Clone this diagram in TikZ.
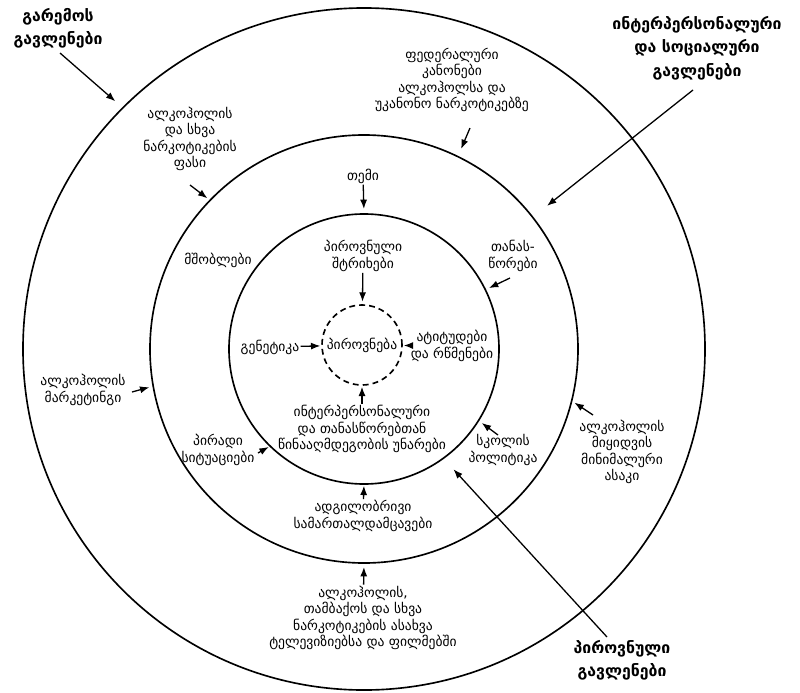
\documentclass[tikz,border=0pt]{standalone}
\usepackage{fontspec}
\setmainfont{DejaVu Sans}
\usetikzlibrary{arrows.meta,positioning}

\begin{document}
\begin{tikzpicture}[
  x=0.03cm, y=-0.03cm,
  ring/.style={draw, circle, line width=1.4pt, inner sep=0pt, outer sep=0pt},
  lbl/.style={align=center, font=\fontsize{11.6}{14}\selectfont, inner sep=1pt},
  head/.style={align=center, font=\bfseries\fontsize{13.5}{20}\selectfont, inner sep=1pt},
  arr/.style={-{Latex[length=8pt,width=6pt]}, line width=1.1pt},
]
  \fill[white] (0,0) rectangle (800,693);
  \useasboundingbox (0,0) rectangle (800,693);

  % rings
  \node[ring, minimum size=20.46cm] (outer) at (364,349) {};
  \node[ring, minimum size=12.84cm] (middle) at (364,349) {};
  \node[ring, minimum size=8.1cm] (inner) at (364,349) {};
  \node[ring, dashed, dash pattern=on 5pt off 3.5pt, minimum size=2.4cm, font=\fontsize{11.6}{14}\selectfont] (self) at (362,345) {პიროვნება};

  % headings
  \node[head] (env) at (58,28) {გარემოს\\გავლენები};
  \node[head] (soc) at (697,48) {ინტერპერსონალური\\და სოციალური\\გავლენები};
  \node[head] (pers) at (622,660) {პიროვნული\\გავლენები};

  % outer ring
  \node[lbl] (fedlaw) at (452,80) {ფედერალური\\კანონები\\ალკოჰოლსა და\\უკანონო ნარკოტიკებზე};
  \node[lbl] (price) at (190,139) {ალკოჰოლის\\და სხვა\\ნარკოტიკების\\ფასი};
  \node[lbl] (marketing) at (83,390) {ალკოჰოლის\\მარკეტინგი};
  \node[lbl] (minage) at (622,452) {ალკოჰოლის\\მიყიდვის\\მინიმალური\\ასაკი};
  \node[lbl] (media) at (363,618) {ალკოჰოლის,\\თამბაქოს და სხვა\\ნარკოტიკების ასახვა\\ტელევიზიებსა და ფილმებში};

  % middle ring
  \node[lbl] (temi) at (363,176) {თემი};
  \node[lbl] (parents) at (218,260) {მშობლები};
  \node[lbl] (peers) at (513,256) {თანას-\\წორები};
  \node[lbl] (situations) at (218,450) {პირადი\\სიტუაციები};
  \node[lbl] (school) at (503,450) {სკოლის\\პოლიტიკა};
  \node[lbl] (police) at (363,516) {ადგილობრივი\\სამართალდამცავები};

  % inner ring
  \node[lbl] (traits) at (363,256) {პიროვნული\\შტრიხები};
  \node[lbl] (genetics) at (270,347) {გენეტიკა};
  \node[lbl] (attitudes) at (452,346) {ატიტუდები\\და რწმენები};
  \node[lbl] (skills) at (362,429) {ინტერპერსონალური\\და თანასწორებთან\\წინააღმდეგობის უნარები};

  % arrow tails
  \coordinate (env-t) at (60,53);
  \coordinate (soc-t) at (693,90);
  \coordinate (pers-t) at (607,637);
  \coordinate (fedlaw-t) at (470,128);
  \coordinate (price-t) at (190,185);
  \coordinate (peers-t) at (510,278);
  \coordinate (marketing-t) at (132,392);
  \coordinate (situations-t) at (258,453);
  \coordinate (school-t) at (498,435);
  \coordinate (minage-t) at (593,415);

  \draw[arr, shorten >=0.3cm] (env-t) -- (outer.135);
  \draw[arr, shorten >=0.55cm] (soc-t) -- (middle.38);
  \draw[arr, shorten >=0.45cm] (pers-t) -- (inner.-54);
  \draw[arr, shorten >=0.25cm] (fedlaw-t) -- (middle.64);
  \draw[arr, shorten >=0.1cm] (price-t) -- (middle.136);
  \draw[arr, shorten >=0.12cm] (marketing-t) -- (middle.190);
  \draw[arr, shorten >=0.1cm] (minage-t) -- (middle.-14);
  \draw[arr, shorten >=0.12cm] (media) -- (middle.-90);
  \draw[arr, shorten >=0.15cm] (temi) -- (inner.90);
  \draw[arr, shorten >=0.12cm] (peers-t) -- (inner.26);
  \draw[arr, shorten >=0.05cm] (situations-t) -- (inner.226);
  \draw[arr, shorten >=0.12cm] (school-t) -- (inner.-32);
  \draw[arr, shorten >=0.05cm] (police) -- (inner.-90);
  \draw[arr, shorten >=0.1cm] (traits) -- (self);
  \draw[arr, shorten >=0.05cm] (genetics) -- (self);
  \draw[arr, shorten >=0.05cm] (attitudes) -- (self);
  \draw[arr, shorten >=0.05cm] (skills) -- (self);
\end{tikzpicture}
\end{document}
